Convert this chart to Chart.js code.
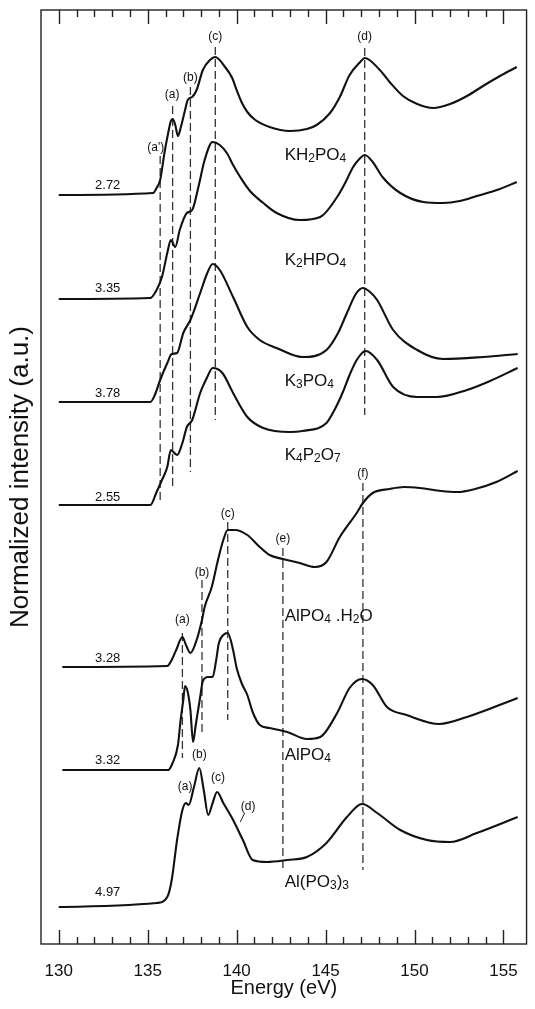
<!DOCTYPE html>
<html>
<head>
<meta charset="utf-8">
<script src="https://cdn.jsdelivr.net/npm/chart.js@4.4.1/dist/chart.umd.min.js"></script>
<style>
  html, body { margin: 0; padding: 0; background: #fff; }
  canvas { display: block; }
</style>
</head>
<body>
<canvas id="chart" width="535" height="1009"></canvas>
<script>
// x axis (eV)
const energyTicks = [130, 135, 140, 145, 150, 155];
const energyMin = 129;
const energyMax = 156.3;
const intensityMax = 93.4;

// spectra, already stacked (a.u.)
const kh2po4E = [130.0, 135.3, 135.5, 135.7, 135.95, 136.15, 136.3, 136.4, 136.55, 136.7, 136.85, 137.1, 137.25, 137.5, 137.75, 138.1, 138.5, 138.8, 139.35, 139.75, 140.0, 140.3, 140.6, 141.05, 141.85, 143.0, 143.95, 144.5, 145.25, 145.8, 146.35, 146.95, 147.2, 148.05, 148.6, 149.35, 150.15, 151.05, 152.0, 152.95, 153.85, 154.8, 155.75];
const kh2po4I = [74.9, 75.1, 75.6, 76.4, 79.2, 81.1, 82.3, 82.5, 81.9, 80.8, 81.6, 83.4, 84.4, 84.7, 85.4, 87.4, 88.4, 88.7, 87.7, 86.6, 85.4, 84.1, 83.2, 82.4, 81.7, 81.3, 81.5, 81.9, 83.1, 84.7, 86.9, 88.2, 88.6, 87.4, 86.2, 84.8, 84.0, 83.6, 84.0, 84.8, 85.8, 86.8, 87.7];

const k2hpo4E = [130.0, 135.15, 135.5, 135.8, 136.1, 136.3, 136.55, 136.8, 137.2, 137.5, 137.85, 138.2, 138.65, 139.05, 139.45, 139.8, 140.2, 140.75, 141.5, 142.25, 143.55, 144.7, 145.65, 146.1, 146.55, 146.95, 147.2, 147.65, 148.2, 149.2, 150.5, 151.6, 152.55, 153.5, 154.8, 155.75];
const k2hpo4I = [64.5, 64.6, 65.4, 66.7, 69.1, 70.4, 69.7, 71.4, 73.1, 73.4, 75.7, 78.4, 80.2, 79.9, 79.1, 77.9, 76.7, 75.3, 74.1, 73.1, 72.4, 72.7, 74.7, 76.1, 77.7, 78.6, 78.9, 78.2, 76.7, 75.1, 74.2, 74.1, 74.3, 74.8, 75.5, 76.2];

const k3po4E = [130.0, 135.15, 135.4, 135.7, 136.1, 136.35, 136.65, 137.0, 137.4, 137.95, 138.35, 138.65, 139.05, 139.8, 140.6, 141.3, 142.25, 143.7, 145.05, 145.7, 146.2, 146.7, 147.1, 147.5, 147.9, 148.8, 150.15, 151.6, 153.85, 155.8];
const k3po4I = [54.2, 54.2, 54.9, 56.4, 58.1, 59.0, 59.1, 61.1, 62.4, 65.1, 67.1, 68.0, 67.4, 64.7, 61.7, 60.4, 59.6, 58.7, 59.4, 61.1, 63.1, 65.0, 65.6, 65.2, 64.4, 61.4, 59.4, 58.5, 58.7, 59.0];

const k4p2o7E = [130.0, 135.15, 135.5, 135.8, 136.1, 136.3, 136.65, 136.95, 137.2, 137.5, 137.95, 138.35, 138.65, 139.2, 139.8, 140.6, 141.5, 143.0, 143.7, 145.05, 145.5, 145.95, 146.35, 146.75, 147.25, 147.9, 148.8, 150.15, 151.25, 152.95, 154.25, 155.8];
const k4p2o7I = [43.9, 43.9, 45.2, 46.4, 47.7, 49.4, 48.9, 50.1, 51.7, 52.4, 55.1, 56.7, 57.6, 57.1, 55.1, 52.7, 51.6, 51.2, 51.3, 52.1, 53.4, 55.1, 56.9, 58.4, 59.3, 58.4, 55.7, 54.7, 54.7, 55.4, 56.3, 57.6];

const alpo4h2oE = [130.2, 136.1, 136.35, 136.6, 136.95, 137.15, 137.4, 137.75, 138.05, 138.2, 138.6, 138.95, 139.25, 139.5, 139.9, 140.6, 141.3, 141.85, 142.6, 143.55, 144.4, 145.05, 145.8, 146.75, 147.1, 147.65, 148.6, 149.4, 150.3, 151.5, 152.4, 153.4, 154.6, 155.8];
const alpo4h2oI = [27.7, 27.8, 28.4, 29.4, 30.7, 29.9, 29.1, 30.4, 32.4, 33.7, 35.7, 38.4, 40.4, 41.4, 41.4, 40.9, 39.7, 38.9, 38.5, 38.1, 37.7, 38.2, 40.7, 43.1, 44.1, 45.1, 45.5, 45.7, 45.6, 45.3, 45.2, 45.5, 46.2, 47.3];

const alpo4E = [130.2, 136.15, 136.4, 136.7, 136.85, 137.0, 137.1, 137.25, 137.4, 137.55, 137.7, 137.95, 138.1, 138.4, 138.65, 138.85, 139.0, 139.25, 139.5, 139.8, 140.0, 140.3, 140.6, 140.9, 141.3, 141.85, 142.85, 143.95, 144.7, 145.65, 146.35, 147.05, 147.65, 148.45, 149.55, 151.4, 152.95, 155.8];
const alpo4I = [17.4, 17.4, 18.1, 19.9, 22.4, 24.4, 25.8, 25.2, 23.4, 20.2, 21.9, 24.7, 26.3, 26.7, 26.7, 28.4, 30.1, 30.9, 31.1, 29.4, 27.6, 26.0, 24.9, 23.2, 21.9, 21.6, 21.2, 20.5, 20.7, 23.1, 25.6, 26.5, 25.9, 23.7, 22.9, 22.0, 22.7, 24.6];

const alpo33E = [130.0, 135.5, 136.1, 136.35, 136.65, 136.95, 137.15, 137.3, 137.6, 137.9, 138.15, 138.4, 138.65, 138.9, 139.25, 139.8, 140.35, 140.9, 141.7, 142.85, 143.95, 145.05, 146.2, 147.05, 147.9, 149.2, 150.7, 152.0, 153.5, 155.8];
const alpo33I = [3.7, 4.1, 4.7, 6.4, 10.4, 13.4, 14.1, 13.9, 15.7, 17.6, 15.4, 12.9, 14.1, 15.2, 14.1, 12.4, 10.4, 8.4, 8.2, 8.4, 8.7, 10.1, 12.7, 14.0, 13.1, 11.4, 10.4, 10.2, 11.1, 12.7];

// sample names ("_" = next char subscript), where the name sits, edge values
const compoundNames = ['KH_2PO_4', 'K_2HPO_4', 'K_3PO_4', 'K_4P_2O_7', 'AlPO_4 .H_2O', 'AlPO_4', 'Al(PO_3)_3'];
const compoundLabelE = [142.7, 142.7, 142.7, 142.7, 142.7, 142.7, 142.7];
const compoundLabelI = [78.9, 68.4, 56.3, 48.9, 32.8, 18.9, 6.2];
const edgeText = ['2.72', '3.35', '3.78', '2.55', '3.28', '3.32', '4.97'];
const edgeLabelE = [132.75, 132.75, 132.75, 132.75, 132.75, 132.75, 132.75];
const edgeLabelI = [75.9, 65.6, 55.1, 44.7, 28.6, 18.4, 5.2];

// dashed peak markers
const markerE = [135.7, 136.4, 137.4, 138.8, 147.2, 136.95, 138.05, 139.5, 142.6, 147.1];
const markerTop = [78.8, 83.8, 85.7, 89.7, 89.6, 31.1, 36.4, 42.2, 39.6, 46.1];
const markerBottom = [44.1, 45.5, 47.2, 52.4, 52.9, 18.6, 20.9, 22.4, 7.4, 7.4];

// peak letters
const peakText = ["(a')", '(a)', '(b)', '(c)', '(d)', '(a)', '(b)', '(c)', '(e)', '(f)', '(a)', '(b)', '(c)', '(d)'];
const peakE = [135.45, 136.37, 137.4, 138.8, 147.2, 136.95, 138.05, 139.5, 142.6, 147.1, 137.1, 137.9, 138.95, 140.65];
const peakI = [79.6, 84.9, 86.6, 90.7, 90.7, 32.4, 37.1, 43.0, 40.5, 47.0, 15.7, 18.9, 16.6, 13.7];
const leaderE = [140.2, 140.45];
const leaderI = [12.2, 13.1];

const FONT = '"Liberation Sans", Arial, Helvetica, sans-serif';
const INK = '#111';

const spectra = [
  ['KH2PO4', kh2po4E, kh2po4I],
  ['K2HPO4', k2hpo4E, k2hpo4I],
  ['K3PO4', k3po4E, k3po4I],
  ['K4P2O7', k4p2o7E, k4p2o7I],
  ['AlPO4.H2O', alpo4h2oE, alpo4h2oI],
  ['AlPO4', alpo4E, alpo4I],
  ['Al(PO3)3', alpo33E, alpo33I]
];

const datasets = [];
spectra.forEach(([name, xs, ys]) => {
  datasets.push({
    label: name,
    data: xs.map((x, i) => ({ x: x, y: ys[i] })),
    showLine: true,
    borderColor: INK,
    borderWidth: 2.1,
    pointRadius: 0,
    cubicInterpolationMode: 'monotone'
  });
});
markerE.forEach((e, i) => {
  datasets.push({
    label: 'marker' + i,
    data: [{ x: e, y: markerTop[i] }, { x: e, y: markerBottom[i] }],
    showLine: true,
    borderColor: '#333',
    borderWidth: 1.3,
    borderDash: [8, 4],
    pointRadius: 0
  });
});
datasets.push({
  label: 'leader',
  data: leaderE.map((x, i) => ({ x: x, y: leaderI[i] })),
  showLine: true,
  borderColor: '#222',
  borderWidth: 1,
  pointRadius: 0
});

// text with subscripts
function drawFormula(ctx, text, x, y, size) {
  let cx = x;
  for (let i = 0; i < text.length; i++) {
    let ch = text[i];
    let sub = false;
    if (ch === '_') { sub = true; ch = text[++i]; }
    const s = sub ? Math.round(size * 0.68) : size;
    ctx.font = s + 'px ' + FONT;
    ctx.fillText(ch, cx, sub ? y + size * 0.22 : y);
    cx += ctx.measureText(ch).width;
  }
}

const annotations = {
  id: 'annotations',
  afterDatasetsDraw(chart) {
    const { ctx, scales: { x, y } } = chart;
    ctx.save();
    ctx.fillStyle = INK;
    ctx.textBaseline = 'middle';

    ctx.textAlign = 'left';
    compoundNames.forEach((t, i) => {
      drawFormula(ctx, t, x.getPixelForValue(compoundLabelE[i]), y.getPixelForValue(compoundLabelI[i]), 17);
    });

    ctx.textAlign = 'center';
    ctx.font = '13px ' + FONT;
    edgeText.forEach((t, i) => {
      ctx.fillText(t, x.getPixelForValue(edgeLabelE[i]), y.getPixelForValue(edgeLabelI[i]));
    });

    ctx.font = '12px ' + FONT;
    peakText.forEach((t, i) => {
      ctx.fillText(t, x.getPixelForValue(peakE[i]), y.getPixelForValue(peakI[i]));
    });
    ctx.restore();
  }
};

// box and inward ticks on top and bottom
const frame = {
  id: 'frame',
  afterDraw(chart) {
    const { ctx, chartArea: a, scales: { x } } = chart;
    ctx.save();
    ctx.strokeStyle = '#222';
    ctx.lineWidth = 1.4;
    ctx.strokeRect(a.left, a.top, a.right - a.left, a.bottom - a.top);
    ctx.beginPath();
    for (let v = energyTicks[0]; v <= energyTicks[energyTicks.length - 1]; v++) {
      const px = Math.round(x.getPixelForValue(v)) + 0.5;
      const len = v % 5 === 0 ? 14 : 7;
      ctx.moveTo(px, a.bottom); ctx.lineTo(px, a.bottom - len);
      ctx.moveTo(px, a.top); ctx.lineTo(px, a.top + len);
    }
    ctx.stroke();
    ctx.restore();
  }
};

new Chart(document.getElementById('chart'), {
  type: 'scatter',
  data: { datasets: datasets },
  options: {
    responsive: false,
    animation: false,
    layout: { padding: { top: 10, right: 8, left: 0, bottom: 0 } },
    plugins: { legend: { display: false }, tooltip: { enabled: false } },
    scales: {
      x: {
        type: 'linear',
        min: energyMin,
        max: energyMax,
        afterBuildTicks: axis => { axis.ticks = energyTicks.map(v => ({ value: v })); },
        afterFit: axis => { axis.height = 65; },
        grid: { display: false, drawTicks: false },
        border: { display: false },
        ticks: { color: INK, padding: 17, font: { family: FONT, size: 17 } },
        title: {
          display: true,
          text: 'Energy (eV)',
          color: INK,
          padding: { top: 0, bottom: 9 },
          font: { family: FONT, size: 20 }
        }
      },
      y: {
        min: 0,
        max: intensityMax,
        afterFit: axis => { axis.width = 41; },
        grid: { display: false, drawTicks: false },
        border: { display: false },
        ticks: { display: false },
        title: {
          display: true,
          text: 'Normalized intensity (a.u.)',
          color: INK,
          padding: { top: 5, bottom: 0 },
          font: { family: FONT, size: 26 }
        }
      }
    }
  },
  plugins: [annotations, frame]
});
</script>
</body>
</html>
